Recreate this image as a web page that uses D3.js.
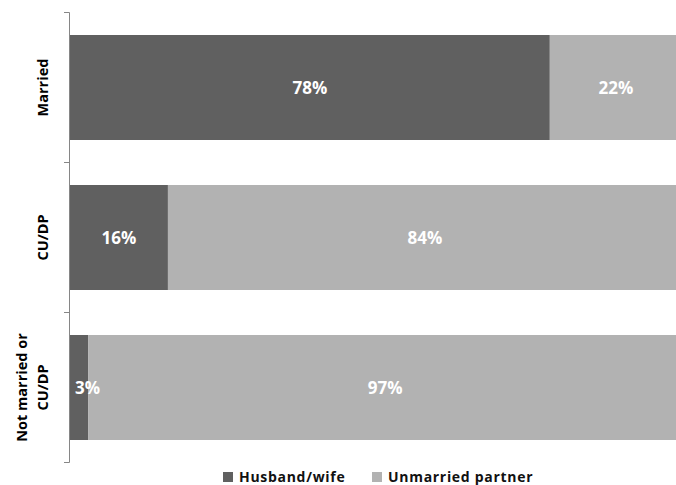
<!DOCTYPE html>
<html><head><meta charset="utf-8">
<script src="https://cdn.jsdelivr.net/npm/d3@7"></script>
<style>body{margin:0;background:#fff}svg{display:block}</style>
</head><body>
<script>
const categories = ["Married", "CU/DP", "Not married or CU/DP"];
const categoryLines = [["Married"], ["CU/DP"], ["Not married or", "CU/DP"]];
const seriesNames = ["Husband/wife", "Unmarried partner"];
const husbandWife = [78.4, 16, 3];
const unmarriedPartner = [21.6, 84, 97];
const colors = ["#606060", "#b2b2b2"];

const W = 676, H = 485;
const svg = d3.select("body").append("svg").attr("width", W).attr("height", H);
const font = "'Open Sans', 'Noto Sans', sans-serif";

const x = d3.scaleLinear().domain([0, 100]).range([70, 682]);
const y = d3.scaleBand().domain(categories).range([12.5, 462.5]).paddingInner(0.3).paddingOuter(0.15);

const segs = [];
categories.forEach((c, i) => {
  let acc = 0;
  [husbandWife[i], unmarriedPartner[i]].forEach((v, j) => {
    segs.push({cat: c, j, v, x0: x(acc), x1: x(acc + v)});
    acc += v;
  });
});
const rectG = svg.append("g"), labG = svg.append("g");
segs.forEach(s => {
  rectG.append("rect").attr("x", s.x0).attr("y", y(s.cat)).attr("width", s.x1 - s.x0).attr("height", y.bandwidth()).attr("fill", colors[s.j]);
  const narrow = (s.x1 - s.x0) < 40;
  labG.append("text").attr("x", narrow ? s.x0 + 5 : (s.x0 + s.x1) / 2).attr("y", y(s.cat) + y.bandwidth() / 2)
    .attr("text-anchor", narrow ? "start" : "middle").attr("dominant-baseline", "central")
    .attr("fill", "#fff").attr("font-family", font).attr("font-weight", "bold").attr("font-size", 17)
    .text(Math.round(s.v) + "%");
});

// axis line with ticks at category boundaries
const axisG = svg.append("g");
axisG.append("line").attr("x1", 69.5).attr("x2", 69.5).attr("y1", 12.5).attr("y2", 462.5).attr("stroke", "#868686");
const tickYs = [0, 1, 2, 3].map(k => 12.5 + k * 150);
tickYs.forEach(t => axisG.append("line").attr("x1", 64).attr("x2", 69.5).attr("y1", t).attr("y2", t).attr("stroke", "#868686"));

// category labels rotated
categories.forEach((c, i) => {
  const cy = y(c) + y.bandwidth() / 2;
  const lines = categoryLines[i];
  const n = lines.length;
  lines.forEach((ln, k) => {
    const cx = 42 - (n - 1 - k) * 21;
    svg.append("text").attr("transform", `translate(${cx},${cy}) rotate(-90)`)
      .attr("text-anchor", "middle").attr("dominant-baseline", "central")
      .attr("font-family", font).attr("font-weight", "bold").attr("font-size", 14.5).attr("fill", "#000")
      .text(ln);
  });
});

// legend
const legendX = [223, 372];
seriesNames.forEach((s, j) => {
  svg.append("rect").attr("x", legendX[j]).attr("y", 472).attr("width", 10).attr("height", 10).attr("fill", colors[j]);
  svg.append("text").attr("x", legendX[j] + 16).attr("y", 476.5).attr("dominant-baseline", "central")
    .attr("font-family", font).attr("font-weight", "bold").attr("font-size", 14).attr("letter-spacing", 0.7).attr("fill", "#111")
    .text(s);
});
</script>
</body></html>
